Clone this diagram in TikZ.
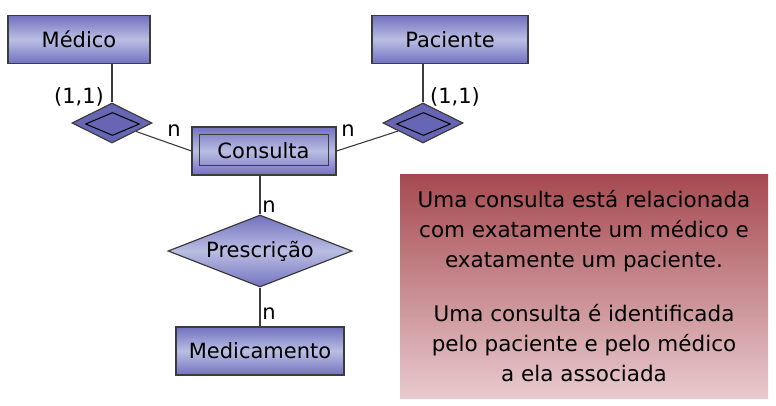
\documentclass[tikz,border=0pt]{standalone}
\usepackage{fontspec}
\setmainfont{DejaVu Sans}
\usetikzlibrary{shapes.geometric}

\definecolor{entborda}{HTML}{7272C0}
\definecolor{entmeio}{HTML}{BABEE2}
\definecolor{fracafill}{HTML}{6666B4}
\definecolor{notatopo}{HTML}{A64A50}
\definecolor{notabase}{HTML}{E8CACE}
\definecolor{linha}{HTML}{3C3C3C}

\tikzset{
  texto/.style={font=\fontsize{21}{25}\selectfont},
  entidade/.style={texto, draw=linha, line width=1.2pt, top color=entborda,
    bottom color=entborda, middle color=entmeio, inner sep=0pt, minimum height=48pt},
  fraca/.style={diamond, draw=linha, line width=1.2pt, fill=fracafill, inner sep=0pt,
    minimum width=80pt, minimum height=40pt},
  fracaint/.style={diamond, draw=black, line width=1pt, inner sep=0pt,
    minimum width=54pt, minimum height=23pt},
  relacao/.style={diamond, texto, draw=linha, line width=1.2pt, top color=entborda,
    bottom color=entborda, middle color=entmeio, inner sep=0pt, aspect=2.55},
  conector/.style={draw=linha, line width=1.1pt},
  rotulo/.style={texto, inner sep=0pt}
}

\begin{document}
\begin{tikzpicture}[x=1pt, y=-1pt]
  \useasboundingbox (0,0) rectangle (776,406);

  % entidades
  \node[entidade, minimum width=142pt] (medico) at (79,39.5) {Médico};
  \node[entidade, minimum width=156pt] (paciente) at (450,39.5) {Paciente};
  \node[entidade, minimum width=144pt] (consultaout) at (264,151) {};
  \node[texto, draw=linha, line width=1pt, inner sep=0pt, minimum width=129pt,
    minimum height=31pt] (consulta) at (263.5,150.5) {Consulta};
  \node[entidade, minimum width=168pt] (medicamento) at (260,351) {Medicamento};

  % relacionamentos
  \node[fraca] (dmed) at (112,123) {};
  \node[fracaint] (dmedint) at (112.5,124) {};
  \node[fraca] (dpac) at (423,123) {};
  \node[fracaint] (dpacint) at (423.5,124) {};
  \node[relacao, minimum width=184pt, minimum height=72pt] (presc) at (260,251) {Prescrição};

  % ligacoes
  \draw[conector] (dmed.north) -- (dmed.north |- medico.south);
  \draw[conector] (dpac.north) -- (dpac.north |- paciente.south);
  \draw[conector] (consultaout.west) -- (dmed);
  \draw[conector] (consultaout.east) -- (dpac);
  \draw[conector] (presc.north) -- (presc.north |- consultaout.south);
  \draw[conector] (presc.south) -- (medicamento.north);

  % cardinalidades
  \node[rotulo] (c1) at (79,97) {(1,1)};
  \node[rotulo] (c2) at (455,97) {(1,1)};
  \node[rotulo] (n1) at (174,131) {n};
  \node[rotulo] (n2) at (348,131) {n};
  \node[rotulo] (n3) at (269,207) {n};
  \node[rotulo] (n4) at (269,314) {n};

  % nota
  \shade[top color=notatopo, bottom color=notabase] (400,175) rectangle (768,398);
  \node[texto, align=center, inner sep=0pt, font=\fontsize{21.5}{30}\selectfont] (nota) at (584,286)
    {Uma consulta está relacionada\\com exatamente um médico e\\exatamente um paciente.\\[24pt]
     Uma consulta é identificada\\pelo paciente e pelo médico\\a ela associada};
\end{tikzpicture}
\end{document}
